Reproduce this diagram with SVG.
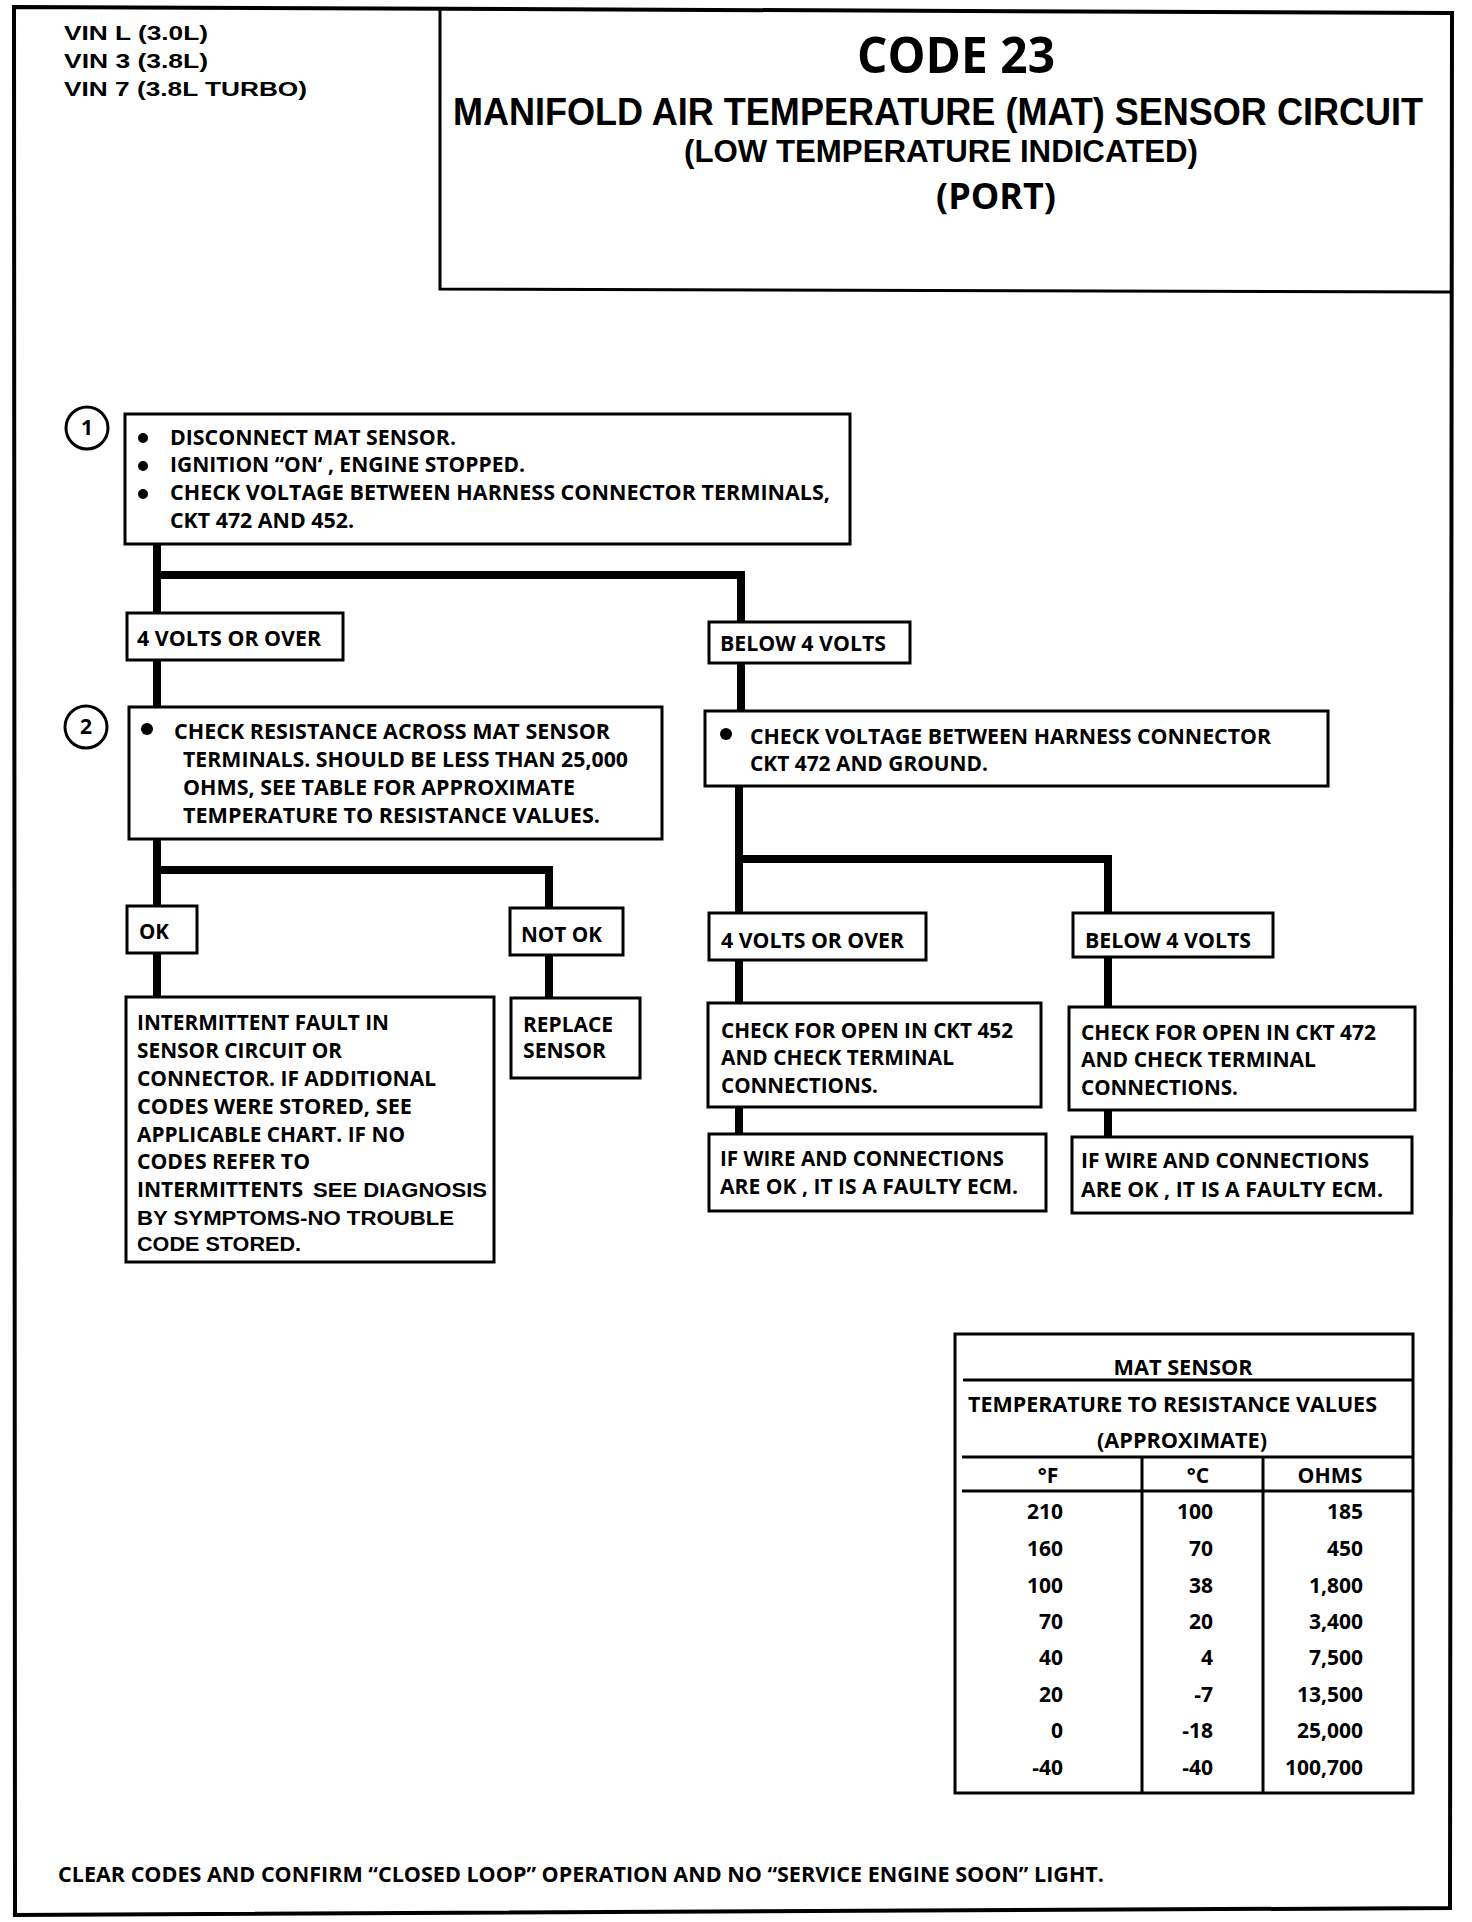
<svg xmlns="http://www.w3.org/2000/svg" width="1472" height="1922" viewBox="0 0 1472 1922">
<style>
.bx{fill:none;stroke:#000;stroke-width:3}
.cn{fill:none;stroke:#000;stroke-width:8;stroke-linejoin:miter;stroke-linecap:butt}
.t{font-family:"Open Sans","Liberation Sans",sans-serif;font-weight:700;font-size:21px;fill:#000}
.a{font-family:"Liberation Sans",Arial,sans-serif;font-weight:700;font-size:21px;fill:#000}
.tb{font-family:"Open Sans","Liberation Sans",sans-serif;font-weight:700;font-size:21px;fill:#000}
.ttl{font-family:"Open Sans","Liberation Sans",sans-serif;font-weight:700;fill:#000}
.ttl2{font-family:"Liberation Sans",Arial,sans-serif;font-weight:700;fill:#000}
</style>
<rect width="1472" height="1922" fill="#fff"/>
<g id="frame">
<polygon points="14,7 1452,13 1450,1908 15,1915" fill="none" stroke="#000" stroke-width="4"/>
<polyline points="440,10 440,289 1451,292" fill="none" stroke="#000" stroke-width="3"/>
</g>
<g id="vin">
<text class="a" x="64" y="40" textLength="144" lengthAdjust="spacingAndGlyphs">VIN L (3.0L)</text>
<text class="a" x="64" y="68" textLength="144" lengthAdjust="spacingAndGlyphs">VIN 3 (3.8L)</text>
<text class="a" x="64" y="96" textLength="243" lengthAdjust="spacingAndGlyphs">VIN 7 (3.8L TURBO)</text>
</g>
<g id="title">
<text class="ttl" x="857" y="73" font-size="50" textLength="198" lengthAdjust="spacingAndGlyphs">CODE 23</text>
<text class="ttl2" transform="translate(453,125) scale(1,1.15)" x="0" y="0" font-size="33" textLength="970" lengthAdjust="spacingAndGlyphs">MANIFOLD AIR TEMPERATURE (MAT) SENSOR CIRCUIT</text>
<text class="ttl2" x="684" y="162" font-size="31" textLength="514" lengthAdjust="spacingAndGlyphs">(LOW TEMPERATURE INDICATED)</text>
<text class="ttl" x="936" y="209" font-size="35" textLength="120" lengthAdjust="spacingAndGlyphs">(PORT)</text>
</g>
<g id="connectors">
<path class="cn" d="M157 544 V613"/>
<path class="cn" d="M157 660 V707"/>
<path class="cn" d="M157 575 H741 V622"/>
<path class="cn" d="M741 663 V711"/>
<path class="cn" d="M157 839 V906"/>
<path class="cn" d="M157 870 H549 V908"/>
<path class="cn" d="M157 953 V997"/>
<path class="cn" d="M549 955 V998"/>
<path class="cn" d="M739 786 V913"/>
<path class="cn" d="M739 859 H1108 V913"/>
<path class="cn" d="M739 960 V1003"/>
<path class="cn" d="M1108 957 V1007"/>
<path class="cn" d="M739 1107 V1134"/>
<path class="cn" d="M1108 1110 V1137"/>
</g>
<g id="step1">
<circle cx="87" cy="428" r="21" fill="none" stroke="#000" stroke-width="3"/>
<text class="t" x="87" y="435" text-anchor="middle" font-size="19">1</text>
</g>
<g id="box1">
<rect class="bx" x="125" y="414" width="725" height="130"/>
<circle cx="143" cy="438" r="5"/>
<circle cx="143" cy="466" r="5"/>
<circle cx="143" cy="494" r="5"/>
<text class="t" x="170" y="445" textLength="286" lengthAdjust="spacingAndGlyphs">DISCONNECT MAT SENSOR.</text>
<text class="t" x="170" y="472" textLength="355" lengthAdjust="spacingAndGlyphs">IGNITION “ON‘ , ENGINE STOPPED.</text>
<text class="t" x="170" y="500" textLength="660" lengthAdjust="spacingAndGlyphs">CHECK VOLTAGE BETWEEN HARNESS CONNECTOR TERMINALS,</text>
<text class="t" x="170" y="528" textLength="184" lengthAdjust="spacingAndGlyphs">CKT 472 AND 452.</text>
</g>
<g id="v4over1">
<rect class="bx" x="127" y="613" width="216" height="47"/>
<text class="t" x="137" y="646" textLength="184" lengthAdjust="spacingAndGlyphs">4 VOLTS OR OVER</text>
</g>
<g id="below1">
<rect class="bx" x="709" y="622" width="201" height="41"/>
<text class="t" x="720" y="651" textLength="166" lengthAdjust="spacingAndGlyphs">BELOW 4 VOLTS</text>
</g>
<g id="step2">
<circle cx="86" cy="727" r="21" fill="none" stroke="#000" stroke-width="3"/>
<text class="t" x="86" y="734" text-anchor="middle" font-size="19">2</text>
</g>
<g id="box2">
<rect class="bx" x="129" y="707" width="533" height="132"/>
<circle cx="147" cy="729" r="6"/>
<text class="t" x="174" y="739" textLength="436" lengthAdjust="spacingAndGlyphs">CHECK RESISTANCE ACROSS MAT SENSOR</text>
<text class="t" x="183" y="767" textLength="445" lengthAdjust="spacingAndGlyphs">TERMINALS. SHOULD BE LESS THAN 25,000</text>
<text class="t" x="183" y="795" textLength="392" lengthAdjust="spacingAndGlyphs">OHMS, SEE TABLE FOR APPROXIMATE</text>
<text class="t" x="183" y="823" textLength="417" lengthAdjust="spacingAndGlyphs">TEMPERATURE TO RESISTANCE VALUES.</text>
</g>
<g id="checkv">
<rect class="bx" x="705" y="711" width="623" height="75"/>
<circle cx="726" cy="734" r="6"/>
<text class="t" x="750" y="744" textLength="521" lengthAdjust="spacingAndGlyphs">CHECK VOLTAGE BETWEEN HARNESS CONNECTOR</text>
<text class="t" x="750" y="771" textLength="238" lengthAdjust="spacingAndGlyphs">CKT 472 AND GROUND.</text>
</g>
<g id="ok">
<rect class="bx" x="127" y="906" width="70" height="47"/>
<text class="t" x="139" y="939" textLength="30" lengthAdjust="spacingAndGlyphs">OK</text>
</g>
<g id="notok">
<rect class="bx" x="510" y="908" width="113" height="47"/>
<text class="t" x="521" y="942" textLength="81" lengthAdjust="spacingAndGlyphs">NOT OK</text>
</g>
<g id="intermittent">
<rect class="bx" x="126" y="997" width="368" height="265"/>
<text class="t" x="137" y="1030" textLength="252" lengthAdjust="spacingAndGlyphs">INTERMITTENT FAULT IN</text>
<text class="t" x="137" y="1058" textLength="205" lengthAdjust="spacingAndGlyphs">SENSOR CIRCUIT OR</text>
<text class="t" x="137" y="1086" textLength="299" lengthAdjust="spacingAndGlyphs">CONNECTOR. IF ADDITIONAL</text>
<text class="t" x="137" y="1114" textLength="275" lengthAdjust="spacingAndGlyphs">CODES WERE STORED, SEE</text>
<text class="t" x="137" y="1142" textLength="268" lengthAdjust="spacingAndGlyphs">APPLICABLE CHART. IF NO</text>
<text class="t" x="137" y="1169" textLength="173" lengthAdjust="spacingAndGlyphs">CODES REFER TO</text>
<text class="t" y="1197"><tspan x="137" textLength="166" lengthAdjust="spacingAndGlyphs">INTERMITTENTS</tspan> <tspan class="a" x="313" textLength="174" lengthAdjust="spacingAndGlyphs" style="font-family:'Liberation Sans',Arial,sans-serif">SEE DIAGNOSIS</tspan></text>
<text class="a" x="137" y="1225" textLength="317" lengthAdjust="spacingAndGlyphs">BY SYMPTOMS-NO TROUBLE</text>
<text class="a" x="137" y="1251" textLength="164" lengthAdjust="spacingAndGlyphs">CODE STORED.</text>
</g>
<g id="replace">
<rect class="bx" x="511" y="998" width="129" height="80"/>
<text class="t" x="523" y="1032" textLength="90" lengthAdjust="spacingAndGlyphs">REPLACE</text>
<text class="t" x="523" y="1058" textLength="83" lengthAdjust="spacingAndGlyphs">SENSOR</text>
</g>
<g id="v4over2">
<rect class="bx" x="709" y="913" width="217" height="47"/>
<text class="t" x="721" y="948" textLength="183" lengthAdjust="spacingAndGlyphs">4 VOLTS OR OVER</text>
</g>
<g id="below2">
<rect class="bx" x="1073" y="913" width="200" height="44"/>
<text class="t" x="1085" y="948" textLength="166" lengthAdjust="spacingAndGlyphs">BELOW 4 VOLTS</text>
</g>
<g id="open452">
<rect class="bx" x="708" y="1003" width="333" height="104"/>
<text class="t" x="721" y="1038" textLength="292" lengthAdjust="spacingAndGlyphs">CHECK FOR OPEN IN CKT 452</text>
<text class="t" x="721" y="1065" textLength="233" lengthAdjust="spacingAndGlyphs">AND CHECK TERMINAL</text>
<text class="t" x="721" y="1093" textLength="157" lengthAdjust="spacingAndGlyphs">CONNECTIONS.</text>
</g>
<g id="open472">
<rect class="bx" x="1069" y="1007" width="346" height="103"/>
<text class="t" x="1081" y="1040" textLength="295" lengthAdjust="spacingAndGlyphs">CHECK FOR OPEN IN CKT 472</text>
<text class="t" x="1081" y="1067" textLength="235" lengthAdjust="spacingAndGlyphs">AND CHECK TERMINAL</text>
<text class="t" x="1081" y="1095" textLength="157" lengthAdjust="spacingAndGlyphs">CONNECTIONS.</text>
</g>
<g id="ecm1">
<rect class="bx" x="709" y="1134" width="337" height="77"/>
<text class="t" x="720" y="1166" textLength="284" lengthAdjust="spacingAndGlyphs">IF WIRE AND CONNECTIONS</text>
<text class="t" x="720" y="1194" textLength="298" lengthAdjust="spacingAndGlyphs">ARE OK , IT IS A FAULTY ECM.</text>
</g>
<g id="ecm2">
<rect class="bx" x="1072" y="1137" width="340" height="76"/>
<text class="t" x="1081" y="1168" textLength="288" lengthAdjust="spacingAndGlyphs">IF WIRE AND CONNECTIONS</text>
<text class="t" x="1081" y="1197" textLength="302" lengthAdjust="spacingAndGlyphs">ARE OK , IT IS A FAULTY ECM.</text>
</g>
<g id="table">
<rect class="bx" x="955" y="1334" width="458" height="459"/>
<path class="bx" d="M963 1380 H1413 M962 1457 H1413 M962 1491 H1413 M1142 1457 V1793 M1263 1457 V1793"/>
<text class="tb" x="1183" y="1375" text-anchor="middle" textLength="139" lengthAdjust="spacingAndGlyphs">MAT SENSOR</text>
<text class="tb" x="968" y="1412" textLength="409" lengthAdjust="spacingAndGlyphs">TEMPERATURE TO RESISTANCE VALUES</text>
<text class="tb" x="1182" y="1448" text-anchor="middle" textLength="170" lengthAdjust="spacingAndGlyphs">(APPROXIMATE)</text>
<text class="tb" x="1048" y="1483" text-anchor="middle">°F</text>
<text class="tb" x="1198" y="1483" text-anchor="middle">°C</text>
<text class="tb" x="1330" y="1483" text-anchor="middle" textLength="65" lengthAdjust="spacingAndGlyphs">OHMS</text>
<g text-anchor="end">
<text class="tb" x="1063" y="1519">210</text><text class="tb" x="1213" y="1519">100</text><text class="tb" x="1363" y="1519">185</text>
<text class="tb" x="1063" y="1556">160</text><text class="tb" x="1213" y="1556">70</text><text class="tb" x="1363" y="1556">450</text>
<text class="tb" x="1063" y="1593">100</text><text class="tb" x="1213" y="1593">38</text><text class="tb" x="1363" y="1593">1,800</text>
<text class="tb" x="1063" y="1629">70</text><text class="tb" x="1213" y="1629">20</text><text class="tb" x="1363" y="1629">3,400</text>
<text class="tb" x="1063" y="1665">40</text><text class="tb" x="1213" y="1665">4</text><text class="tb" x="1363" y="1665">7,500</text>
<text class="tb" x="1063" y="1702">20</text><text class="tb" x="1213" y="1702">-7</text><text class="tb" x="1363" y="1702">13,500</text>
<text class="tb" x="1063" y="1738">0</text><text class="tb" x="1213" y="1738">-18</text><text class="tb" x="1363" y="1738">25,000</text>
<text class="tb" x="1063" y="1775">-40</text><text class="tb" x="1213" y="1775">-40</text><text class="tb" x="1363" y="1775">100,700</text>
</g>
</g>
<g id="footer">
<text class="t" x="58" y="1882" textLength="1046" lengthAdjust="spacingAndGlyphs">CLEAR CODES AND CONFIRM “CLOSED LOOP”  OPERATION AND NO “SERVICE ENGINE SOON” LIGHT.</text>
</g>
</svg>
